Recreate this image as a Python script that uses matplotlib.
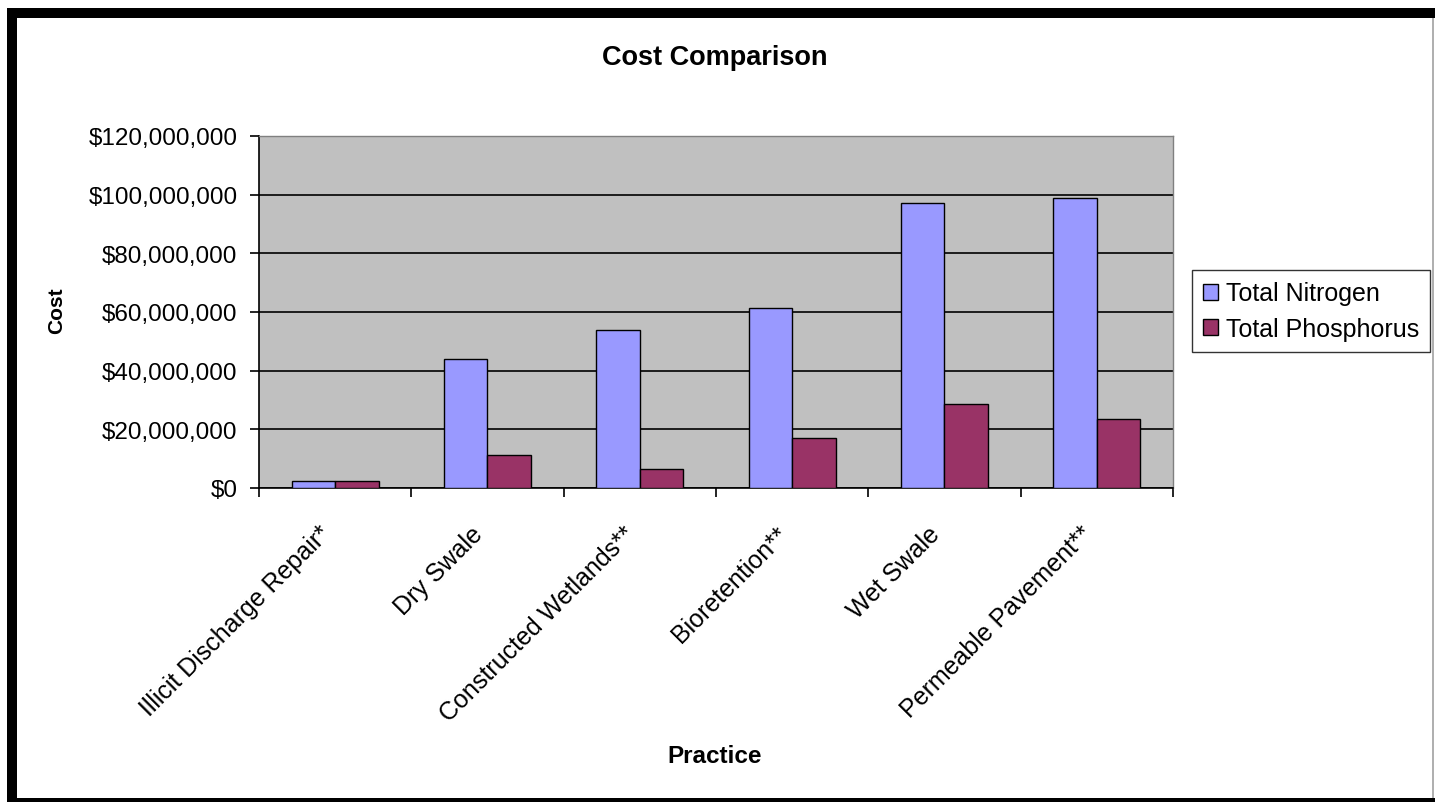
import numpy as np
import matplotlib.pyplot as plt
import matplotlib.transforms as mtransforms
from matplotlib.patches import Rectangle
from matplotlib.ticker import FuncFormatter, FixedLocator

plt.rcParams['font.family'] = ['Liberation Sans', 'DejaVu Sans']

# chart data
practices = ['Illicit Discharge Repair*', 'Dry Swale', 'Constructed Wetlands**',
             'Bioretention**', 'Wet Swale', 'Permeable Pavement**']
nitrogen = [2.3e6, 44.0e6, 54.0e6, 61.3e6, 97.1e6, 98.8e6]
phosphorus = [2.3e6, 11.2e6, 6.5e6, 17.0e6, 28.6e6, 23.5e6]
series_names = ['Total Nitrogen', 'Total Phosphorus']
y_ticks = [0, 20e6, 40e6, 60e6, 80e6, 100e6, 120e6]

W, H = 1435, 803
fig = plt.figure(figsize=(W / 100, H / 100), dpi=100)
fig.patch.set_facecolor('white')

# black picture frame (screenshot border)
def px_rect(x0, y0, x1, y1, color):
    fig.patches.append(Rectangle((x0 / W, 1 - y1 / H), (x1 - x0) / W, (y1 - y0) / H,
                                 transform=fig.transFigure, facecolor=color,
                                 edgecolor='none', zorder=0))

px_rect(7, 9, W, 19, 'black')
px_rect(7, 9, 17, H, 'black')
px_rect(7, 799, W, H, 'black')
px_rect(1432, 19, 1434, 799, '#b0b0b0')

ax = fig.add_axes([259 / W, 1 - 489 / H, (1173 - 259) / W, (489 - 137) / H])
ax.set_facecolor('#C0C0C0')

x = np.arange(len(practices))
bw = 1 / 3.5
ax.bar(x - bw / 2, nitrogen, bw, color='#9999FF', edgecolor='black', linewidth=1,
       label=series_names[0], zorder=3)
ax.bar(x + bw / 2, phosphorus, bw, color='#993366', edgecolor='black', linewidth=1,
       label=series_names[1], zorder=3)

ax.set_xlim(-0.5, len(practices) - 0.5)
ax.set_ylim(0, 120e6)

ax.yaxis.set_major_locator(FixedLocator(y_ticks))
ax.yaxis.set_major_formatter(FuncFormatter(lambda v, p: f'${v:,.0f}'))
ax.grid(axis='y', color='black', linewidth=1.2, zorder=1)
ax.set_axisbelow(True)

ax.set_xticks(x)
ax.set_xticklabels(practices, rotation=45, ha='right', va='center',
                   rotation_mode='anchor', fontsize=18)
ax.set_xticks(np.arange(-0.5, len(practices)), minor=True)
ax.tick_params(axis='x', which='major', length=0, pad=30)
ax.tick_params(axis='x', which='minor', length=6.5, width=1.2, direction='out')
ax.tick_params(axis='y', length=6.5, width=1.2, pad=9, labelsize=17.5)

for s in ['left', 'bottom']:
    ax.spines[s].set_color('black')
    ax.spines[s].set_linewidth(1.2)
for s in ['top', 'right']:
    ax.spines[s].set_color('#808080')
    ax.spines[s].set_linewidth(1)

# shift rotated tick labels so their ends sit near the category centre
offset = mtransforms.ScaledTranslation(-6 / 72, 0, fig.dpi_scale_trans)
for lbl in ax.get_xticklabels():
    lbl.set_transform(lbl.get_transform() + offset)

fig.text(715 / W, 1 - 58 / H, 'Cost Comparison', ha='center', va='center',
         fontsize=19.5, fontweight='bold')
fig.text(57 / W, 1 - 311 / H, 'Cost', ha='center', va='center', rotation=90,
         fontsize=15, fontweight='bold')
fig.text(715 / W, 1 - 757 / H, 'Practice', ha='center', va='center',
         fontsize=17.5, fontweight='bold')

leg = fig.legend(loc='center left', bbox_to_anchor=(1192 / W, 1 - 312 / H),
                 fontsize=18, frameon=True, fancybox=False, shadow=False,
                 handlelength=0.6, handleheight=0.6, handletextpad=0.3,
                 borderpad=0.45, labelspacing=0.45, borderaxespad=0)
leg.get_frame().set_edgecolor('black')
leg.get_frame().set_linewidth(1)

fig.savefig('out.png', dpi=100)
